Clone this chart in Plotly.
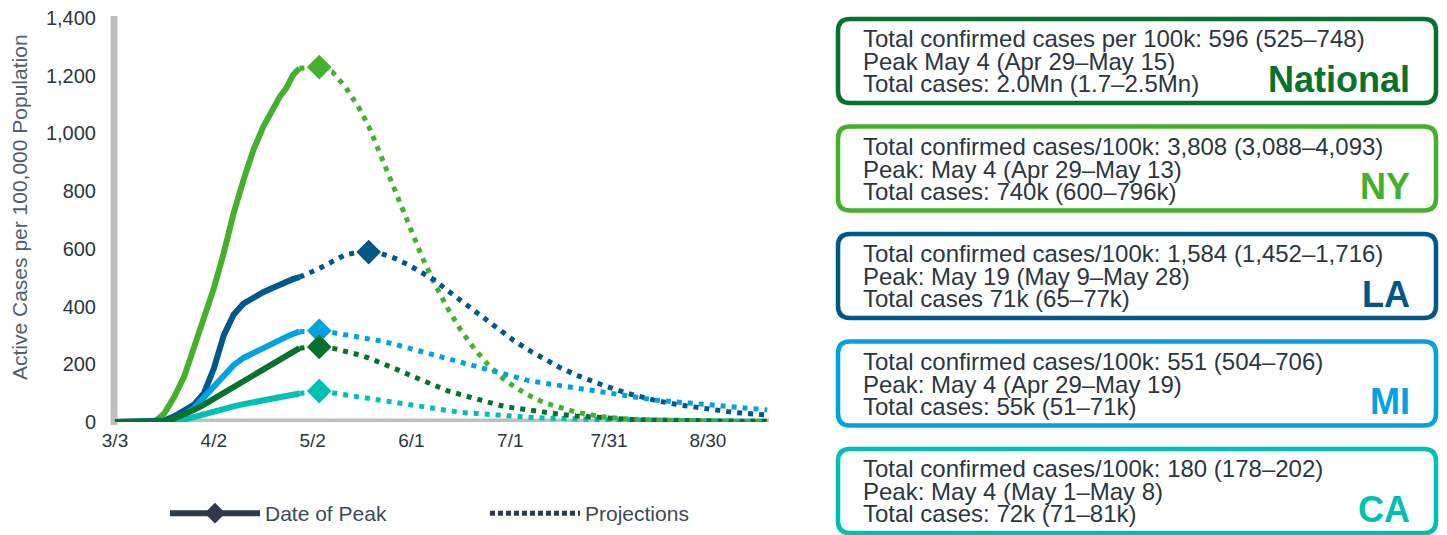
import datetime as dt
import plotly.graph_objects as go

# ---------------- data ----------------
base_date = dt.date(2020, 3, 3)

series_names = ["NY", "LA", "MI", "CA", "National"]
series_colors = ["#44B02E", "#00578A", "#00A3E0", "#00BFB3", "#06722D"]

# observed (solid) – day offsets from 3/3
obs_days = [0, 12, 15, 18, 21, 24, 27, 30, 33, 36, 39, 42, 45, 48, 50, 52, 54, 56]
obs_ny = [0, 0, 30, 87, 157, 260, 353, 463, 585, 723, 838, 942, 1023, 1092, 1127, 1157, 1202, 1226]
obs_la = [0, 0, 5, 20, 38, 60, 100, 185, 300, 372, 410, 432, 450, 465, 476, 486, 495, 502]
obs_mi = [0, 0, 0, 10, 25, 48, 85, 125, 165, 197, 222, 240, 258, 272, 285, 295, 305, 313]
obs_ca = [0, 0, 0, 2, 8, 18, 27, 36, 45, 54, 62, 68, 73, 79, 83, 88, 94, 99]
obs_nat = [0, 0, 2, 12, 25, 42, 60, 80, 100, 122, 145, 165, 183, 200, 213, 228, 242, 256]

# projections (dotted) – day offsets from 3/3
proj_days = [56, 59, 62, 66, 70, 74, 77, 81, 85, 89, 93, 97, 101, 105, 109, 113, 117,
             121, 125, 130, 135, 140, 148, 156, 164, 172, 180, 188, 198]
proj_ny = [1226, 1229, 1230, 1213, 1160, 1090, 1025, 915, 800, 690, 578, 480, 394, 318, 255,
           202, 158, 124, 96, 68, 50, 34, 18, 10, 7, 5, 4, 3, 3]
proj_la = [502, 515, 532, 556, 580, 588, 589, 583, 567, 545, 518, 492, 455, 420, 383, 349,
           315, 283, 253, 219, 189, 163, 128, 98, 75, 58, 44, 33, 24]
proj_mi = [313, 315, 316, 310, 303, 296, 290, 280, 269, 257, 245, 232, 219, 206, 195, 183,
           171, 158, 145, 135, 127, 117, 103, 90, 76, 67, 60, 52, 42]
proj_ca = [99, 103, 107, 101, 94, 87, 82, 75, 67, 59, 51, 44, 38, 33, 30, 26, 23, 20, 17,
           14, 12, 10, 8, 6, 5, 4, 3, 2, 2]
proj_nat = [256, 258, 260, 256, 246, 233, 222, 205, 185, 165, 145, 126, 108, 95, 81, 69, 57,
            49, 42, 34, 27, 21, 13, 9, 7, 5, 4, 3, 3]

# peaks (diamonds)
peak_dates = ["2020-05-04", "2020-05-19", "2020-05-04", "2020-05-04", "2020-05-04"]
peak_vals = [1230, 589, 316, 107, 260]

x_tickvals = ["2020-03-03", "2020-04-02", "2020-05-02", "2020-06-01", "2020-07-01",
              "2020-07-31", "2020-08-30"]
x_ticktext = ["3/3", "4/2", "5/2", "6/1", "7/1", "7/31", "8/30"]
y_tickvals = [0, 200, 400, 600, 800, 1000, 1200, 1400]

box_names = ["National", "NY", "LA", "MI", "CA"]
box_colors = ["#06722D", "#44B02E", "#00578A", "#00A3E0", "#00BFB3"]
box_lines = [
    ["Total confirmed cases per 100k: 596 (525–748)", "Peak May 4 (Apr 29–May 15)",
     "Total cases: 2.0Mn (1.7–2.5Mn)"],
    ["Total confirmed cases/100k: 3,808 (3,088–4,093)", "Peak: May 4 (Apr 29–May 13)",
     "Total cases: 740k (600–796k)"],
    ["Total confirmed cases/100k: 1,584 (1,452–1,716)", "Peak: May 19 (May 9–May 28)",
     "Total cases 71k (65–77k)"],
    ["Total confirmed cases/100k: 551 (504–706)", "Peak: May 4 (Apr 29–May 19)",
     "Total cases: 55k (51–71k)"],
    ["Total confirmed cases/100k: 180 (178–202)", "Peak: May 4 (May 1–May 8)",
     "Total cases: 72k (71–81k)"],
]

y_title = "Active Cases per 100,000 Population"
legend_names = ["Date of Peak", "Projections"]

# ---------------- figure ----------------
W, H = 1447, 535
PL, PR, PT, PB = 113, 769, 18, 422  # plot area in px
FONT = "Liberation Sans, Arial, sans-serif"
TEXT = "#2B3640"
LEG = "#2E3B46"


def to_dates(days):
    return [(base_date + dt.timedelta(days=d)).isoformat() for d in days]


def px_x(x):
    return (x - PL) / (PR - PL)


def px_y(y):
    return (PB - y) / (PB - PT)


obs = [obs_ny, obs_la, obs_mi, obs_ca, obs_nat]
proj = [proj_ny, proj_la, proj_mi, proj_ca, proj_nat]

fig = go.Figure()

for name, col, pv in zip(series_names, series_colors, proj):
    fig.add_trace(go.Scatter(x=to_dates(proj_days), y=pv, mode="lines", name=name + " proj",
                             line=dict(color=col, width=5, dash="5px,6px"),
                             showlegend=False, hoverinfo="skip", cliponaxis=False))
for name, col, ov in zip(series_names, series_colors, obs):
    fig.add_trace(go.Scatter(x=to_dates(obs_days), y=ov, mode="lines", name=name,
                             line=dict(color=col, width=6), showlegend=False,
                             cliponaxis=False))
for name, col, d, v in zip(series_names, series_colors, peak_dates, peak_vals):
    fig.add_trace(go.Scatter(x=[d], y=[v], mode="markers", name=name + " peak",
                             marker=dict(symbol="diamond", size=19, color=col),
                             showlegend=False, cliponaxis=False))

# legend entries
fig.add_trace(go.Scatter(x=[None], y=[None], mode="lines+markers", name=legend_names[0],
                         line=dict(color=LEG, width=6),
                         marker=dict(symbol="diamond", size=22, color=LEG)))
fig.add_trace(go.Scatter(x=[None], y=[None], mode="lines", name=legend_names[1],
                         line=dict(color=LEG, width=5, dash="5px,3px")))

shapes = []
# axis lines
shapes.append(dict(type="line", xref="paper", yref="y", x0=0, x1=1, y0=0, y1=0,
                   line=dict(color="#BFBFBF", width=7), layer="below"))
shapes.append(dict(type="line", xref="paper", yref="paper", x0=px_x(114), x1=px_x(114),
                   y0=px_y(425), y1=px_y(16), line=dict(color="#BFBFBF", width=7),
                   layer="below"))

annotations = []
BX0, BX1, BH, R = 838, 1436, 84, 12
box_tops = [19, 126.5, 234, 341.5, 449]
for i, (nm, col, lines) in enumerate(zip(box_names, box_colors, box_lines)):
    t = box_tops[i]
    b = t + BH
    rx = R / (PR - PL)
    ry = R / (PB - PT)
    x0, x1, y0, y1 = px_x(BX0), px_x(BX1), px_y(b), px_y(t)
    path = (f"M{x0 + rx},{y1} L{x1 - rx},{y1} Q{x1},{y1} {x1},{y1 - ry} "
            f"L{x1},{y0 + ry} Q{x1},{y0} {x1 - rx},{y0} L{x0 + rx},{y0} "
            f"Q{x0},{y0} {x0},{y0 + ry} L{x0},{y1 - ry} Q{x0},{y1} {x0 + rx},{y1} Z")
    shapes.append(dict(type="path", xref="paper", yref="paper", path=path,
                       line=dict(color=col, width=4.5)))
    for j, ln in enumerate(lines):
        base = t + [28, 51, 73][j]
        annotations.append(dict(xref="paper", yref="paper", x=px_x(861),
                                y=px_y(base - 8.4), text=ln, showarrow=False,
                                xanchor="left", yanchor="middle",
                                font=dict(family=FONT, size=24, color=TEXT)))
    annotations.append(dict(xref="paper", yref="paper", x=px_x(1412),
                            y=px_y(t + 73 - 12.6), text=f"<b>{nm}</b>", showarrow=False,
                            xanchor="right", yanchor="middle",
                            font=dict(family=FONT, size=36, color=col)))

annotations.append(dict(xref="paper", yref="paper", x=px_x(19), y=px_y(207),
                        text=y_title, textangle=-90, showarrow=False,
                        xanchor="center", yanchor="middle",
                        font=dict(family=FONT, size=21, color="#52606C")))

start = dt.datetime(2020, 3, 3) - dt.timedelta(days=(115 - PL) / 3.294)
end = start + dt.timedelta(days=(PR - PL) / 3.294)

fig.update_layout(
    width=W, height=H,
    margin=dict(l=PL, r=W - PR, t=PT, b=H - PB, pad=0, autoexpand=False),
    paper_bgcolor="white", plot_bgcolor="white",
    font=dict(family=FONT, color=TEXT),
    showlegend=True,
    legend=dict(orientation="h", x=px_x(165), y=px_y(493), xanchor="left", yanchor="top",
                font=dict(family=FONT, size=21, color="#3E4A55"),
                entrywidth=215, entrywidthmode="pixels", itemwidth=90,
                bgcolor="rgba(0,0,0,0)"),
    xaxis=dict(type="date", range=[start.isoformat(), end.isoformat()],
               tickmode="array", tickvals=x_tickvals, ticktext=x_ticktext,
               showgrid=False, zeroline=False, showline=False, ticks="",
               ticklabelstandoff=5, tickfont=dict(family=FONT, size=19, color=TEXT),
               fixedrange=True),
    yaxis=dict(range=[0, 1400], tickmode="array", tickvals=y_tickvals, tickformat=",",
               showgrid=False, zeroline=False, showline=False, ticks="",
               ticklabelstandoff=16, tickfont=dict(family=FONT, size=20, color=TEXT),
               fixedrange=True),
    shapes=shapes,
    annotations=annotations,
)

fig.write_html("out.html")
